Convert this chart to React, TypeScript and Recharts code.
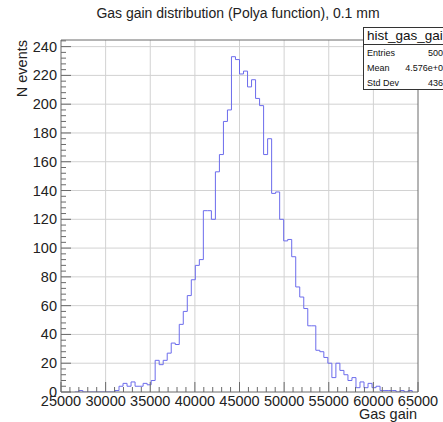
import React from "react";
import { ComposedChart, Line, XAxis, YAxis, ReferenceLine } from "recharts";

// histogram binning: fixed-width bins starting at BIN_LOW
const BIN_LOW = 26550;
const BIN_WIDTH = 450;

// events per bin
const counts = [
  0, 1, 0, 0, 0, 0, 0, 0, 0, 0,
  1, 4, 6, 4, 7, 4, 4, 6, 5, 8,
  22, 19, 22, 27, 34, 33, 47, 56, 67, 78, 88, 92,
  126, 126, 120, 153, 165, 188, 196, 233, 231,
  221, 223, 212, 217, 204, 199, 165, 176, 138, 139,
  120, 105, 106, 94, 73, 66, 58, 46, 46,
  29, 28, 24, 20, 10, 20, 15, 12, 8, 10, 3, 7, 3, 6, 3, 4,
  1, 1, 1, 1, 0, 1, 0, 1,
];

const xLabels = [25000, 30000, 35000, 40000, 45000, 50000, 55000, 60000, 65000];
const yLabels = [0, 20, 40, 60, 80, 100, 120, 140, 160, 180, 200, 220, 240];

const statRows = [
  ["Entries", "5000"],
  ["Mean", "4.576e+04"],
  ["Std Dev", "4363"],
];

const X_MIN = 25000;
const X_MAX = 65000;
const Y_MAX = 244.6;

const FONT = "'Liberation Sans', Arial, Helvetica, sans-serif";
const FRAME = "#6a6a6a";
const GRID = "#d2d2d2";
const HIST = "#6c6cec";

const hist = counts.map((n, i) => ({ gain: BIN_LOW + i * BIN_WIDTH, n }));
hist.push({ gain: BIN_LOW + counts.length * BIN_WIDTH, n: 0 });

const xTicks: number[] = [];
for (let v = X_MIN; v <= X_MAX; v += 1000) xTicks.push(v);
const yTicks: number[] = [];
for (let v = 0; v <= Y_MAX; v += 4) yTicks.push(v);

function XTick(props: any) {
  const { x, y, payload } = props;
  const major = xLabels.includes(payload.value);
  return (
    <g>
      <line x1={x} y1={y} x2={x} y2={y - (major ? 10 : 5)} stroke={FRAME} />
      {major && (
        <text x={x} y={y + 14} textAnchor="middle" fontSize={14.5} fontFamily={FONT} fill="#222">
          {payload.value}
        </text>
      )}
    </g>
  );
}

function YTick(props: any) {
  const { x, y, payload } = props;
  const major = yLabels.includes(payload.value);
  return (
    <g>
      <line x1={x} y1={y} x2={x + (major ? 10 : 5)} y2={y} stroke={FRAME} />
      {major && (
        <text x={x - 4} y={y + 5} textAnchor="end" fontSize={14.5} fontFamily={FONT} fill="#222">
          {payload.value}
        </text>
      )}
    </g>
  );
}

export default function App() {
  return (
    <div style={{ position: "absolute", left: 0, top: 0, width: 443, height: 422, background: "#fff" }}>
      <ComposedChart
        width={443}
        height={422}
        data={hist}
        margin={{ top: 40, right: 25, bottom: 0, left: 0 }}
      >
        {xLabels.slice(1, -1).map((v) => (
          <ReferenceLine key={`gx${v}`} x={v} stroke={GRID} />
        ))}
        {yLabels.slice(1).map((v) => (
          <ReferenceLine key={`gy${v}`} y={v} stroke={GRID} />
        ))}
        <ReferenceLine y={Y_MAX} stroke={FRAME} />
        <ReferenceLine x={X_MAX} stroke={FRAME} />
        <XAxis
          dataKey="gain"
          type="number"
          domain={[X_MIN, X_MAX]}
          ticks={xTicks}
          interval={0}
          height={30}
          tickSize={0}
          tickMargin={0}
          tickLine={false}
          axisLine={{ stroke: FRAME }}
          tick={<XTick />}
          allowDataOverflow
        />
        <YAxis
          type="number"
          domain={[0, Y_MAX]}
          ticks={yTicks}
          interval={0}
          width={61}
          tickSize={0}
          tickMargin={0}
          tickLine={false}
          axisLine={{ stroke: FRAME }}
          tick={<YTick />}
          allowDataOverflow
        />
        <Line
          type="stepAfter"
          dataKey="n"
          stroke={HIST}
          strokeWidth={1}
          dot={false}
          isAnimationActive={false}
        />
      </ComposedChart>

      <svg
        width={443}
        height={422}
        style={{ position: "absolute", left: 0, top: 0, pointerEvents: "none" }}
        fontFamily={FONT}
      >
        <text x={238} y={18} textAnchor="middle" fontSize={14} fill="#222">
          Gas gain distribution (Polya function), 0.1 mm
        </text>
        <text x={417} y={419} textAnchor="end" fontSize={14.5} fill="#222">
          Gas gain
        </text>
        <text x={27} y={40} textAnchor="end" fontSize={14.5} fill="#222" transform="rotate(-90 27 40)">
          N events
        </text>

        <rect x={363.5} y={27.5} width={100} height={62} fill="#fff" stroke="#333" />
        <line x1={363.5} y1={44.5} x2={443} y2={44.5} stroke="#333" />
        <text x={367} y={40} fontSize={13.5} fill="#111">
          hist_gas_gain
        </text>
        {statRows.map(([name, val], i) => (
          <g key={name}>
            <text x={367} y={56 + i * 15} fontSize={9} fill="#111">
              {name}
            </text>
            <text x={448} y={56 + i * 15} fontSize={9} textAnchor="end" fill="#111">
              {val}
            </text>
          </g>
        ))}
      </svg>
    </div>
  );
}
